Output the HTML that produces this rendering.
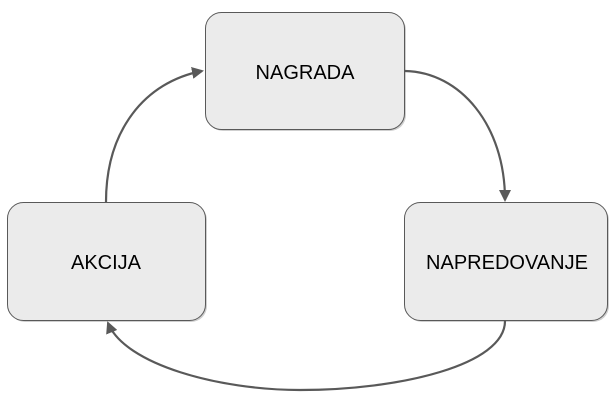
<!DOCTYPE html>
<html><head><style>
html,body{margin:0;padding:0;background:#fff;}
svg{display:block;}
text{font-family:"Liberation Sans",Arial,sans-serif;font-size:20px;fill:#000;}
</style></head><body>
<svg width="615" height="408" viewBox="0 0 615 408" xmlns="http://www.w3.org/2000/svg">
<defs>
<marker id="a" markerWidth="12" markerHeight="12" refX="10" refY="6" orient="auto" markerUnits="userSpaceOnUse">
<path d="M0,0 L12,6 L0,12 Z" fill="#595959"/>
</marker>
</defs>
<g fill="#cfcfcf">
<rect x="207" y="14" width="199" height="117" rx="16"/>
<rect x="9" y="204" width="198" height="118" rx="16"/>
<rect x="406" y="204" width="203" height="118" rx="16"/>
</g>
<rect x="205.5" y="12.5" width="199" height="117" rx="16" fill="#ebebeb" stroke="#595959" stroke-width="1"/>
<rect x="7.5" y="202.5" width="198" height="118" rx="16" fill="#ebebeb" stroke="#595959" stroke-width="1"/>
<rect x="404.5" y="202.5" width="203" height="118" rx="16" fill="#ebebeb" stroke="#595959" stroke-width="1"/>
<text x="305" y="79" text-anchor="middle">NAGRADA</text>
<text x="106" y="269" text-anchor="middle">AKCIJA</text>
<text x="507" y="269" text-anchor="middle">NAPREDOVANJE</text>
<g fill="none" stroke="#595959" stroke-width="2.2">
<path d="M106,202 C106,130 145,82 202,71" marker-end="url(#a)"/>
<path d="M405,71 C460,72 505,125 505,200" marker-end="url(#a)"/>
<path d="M505,321 C505,365 400,390 300,390 C220,390 125,365 108,323" marker-end="url(#a)"/>
</g>
</svg>
</body></html>
